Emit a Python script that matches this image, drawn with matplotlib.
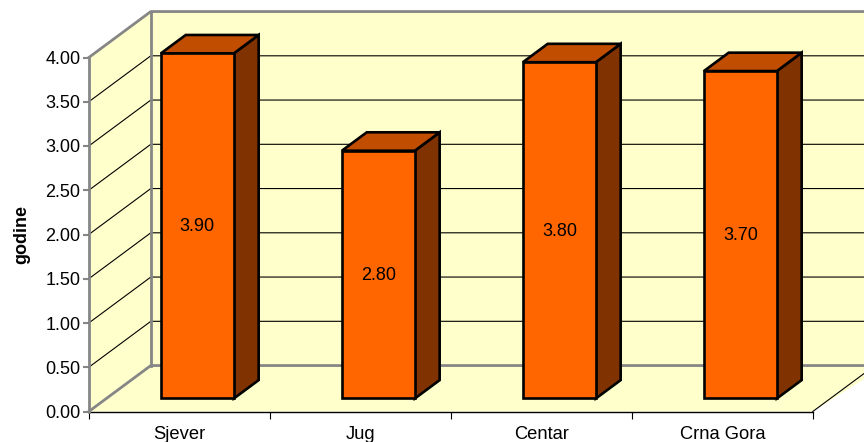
import numpy as np
import matplotlib
matplotlib.use('Agg')
import matplotlib.pyplot as plt
from matplotlib.patches import Polygon

categories = ['Sjever', 'Jug', 'Centar', 'Crna Gora']
values = [3.90, 2.80, 3.80, 3.70]
value_labels = ['3.90', '2.80', '3.80', '3.70']
y_ticks = [0.0, 0.5, 1.0, 1.5, 2.0, 2.5, 3.0, 3.5, 4.0]

WALL = '#FFFFCC'
GREY = '#868686'
BAR = '#FF6600'
BAR_TOP = '#C04D00'
BAR_SIDE = '#803300'

# oblique depth of the box, in data units (categories / value units)
dx = 62 / 181
dy = 46 / 88.6
bar_w = 0.403
front = 0.283   # where the bar starts inside the depth
deep = 0.40     # how deep the bar is
x_end = 4.4

plt.rcParams['font.family'] = ['Liberation Sans', 'DejaVu Sans']

W, H = 864, 442
fig = plt.figure(figsize=(W / 100, H / 100), dpi=100)
ax = fig.add_axes([88.8 / W, (H - 411.5) / H, 724 / W, 354 / H])
ax.set_xlim(0, 4)
ax.set_ylim(0, 4)
ax.patch.set_visible(False)

# walls and floor
ax.add_patch(Polygon([(dx, dy), (x_end, dy), (x_end, 4 + dy), (dx, 4 + dy)], fc=WALL, ec='none', zorder=1, clip_on=False))
ax.add_patch(Polygon([(0, 0), (dx, dy), (dx, 4 + dy), (0, 4)], fc=WALL, ec='none', zorder=1, clip_on=False))
ax.add_patch(Polygon([(0, 0), (dx, dy), (x_end, dy), (4, 0)], fc=WALL, ec='none', zorder=1, clip_on=False))

# gridlines
for v in y_ticks[1:-1]:
    ax.plot([0, dx, x_end], [v, v + dy, v + dy], color='black', lw=0.8, zorder=2, clip_on=False)

# wall edges
ax.plot([0, dx, x_end], [4, 4 + dy, 4 + dy], color=GREY, lw=2, zorder=3, clip_on=False)
ax.plot([dx, dx], [dy, 4 + dy], color=GREY, lw=2, zorder=3, clip_on=False)
ax.plot([0, dx, x_end], [0, dy, dy], color=GREY, lw=2, zorder=3, clip_on=False)
ax.plot([4, x_end], [0, dy * (x_end - 4) / dx], color='black', lw=0.8, zorder=3, clip_on=False)

# bars
for i in range(len(values)):
    left = i + 0.5 + front * dx - bar_w / 2 + 0.003
    right = left + bar_w
    base = front * dy
    top = base + values[i]
    ox = deep * dx
    oy = deep * dy
    ax.add_patch(Polygon([(right, base), (right + ox, base + oy), (right + ox, top + oy), (right, top)],
                         fc=BAR_SIDE, ec='black', lw=1.9, joinstyle='miter', zorder=4, clip_on=False))
    ax.add_patch(Polygon([(left, top), (right, top), (right + ox, top + oy), (left + ox, top + oy)],
                         fc=BAR_TOP, ec='black', lw=1.9, joinstyle='miter', zorder=4, clip_on=False))
    ax.bar(left + bar_w / 2, values[i], width=bar_w, bottom=base, color=BAR, edgecolor='black', linewidth=1.9, zorder=5, clip_on=False)
    ax.text(left + bar_w / 2, base + values[i] / 2 - 0.01, value_labels[i], ha='center', va='center', fontsize=13, color='black', zorder=6)

# axes
ax.set_yticks(y_ticks)
ax.set_yticklabels(['%.2f' % v for v in y_ticks], fontsize=13)
ax.tick_params(axis='y', length=4, width=1.5, color=GREY, pad=2)
ax.set_xticks(np.arange(len(categories) + 1))
ax.set_xticklabels([])
ax.set_xticks(np.arange(len(categories)) + 0.5, minor=True)
ax.set_xticklabels(categories, minor=True, fontsize=13.2)
ax.tick_params(axis='x', which='major', length=5, width=0.8, color='black')
ax.tick_params(axis='x', which='minor', length=0, pad=10.5)
ax.set_ylabel('godine', fontsize=13, fontweight='bold', labelpad=11)

for s in ['top', 'right']:
    ax.spines[s].set_visible(False)
ax.spines['left'].set_color(GREY)
ax.spines['left'].set_linewidth(2)
ax.spines['bottom'].set_color('black')
ax.spines['bottom'].set_linewidth(1)
ax.spines['left'].set_zorder(3)

fig.savefig('out.png', dpi=100)
